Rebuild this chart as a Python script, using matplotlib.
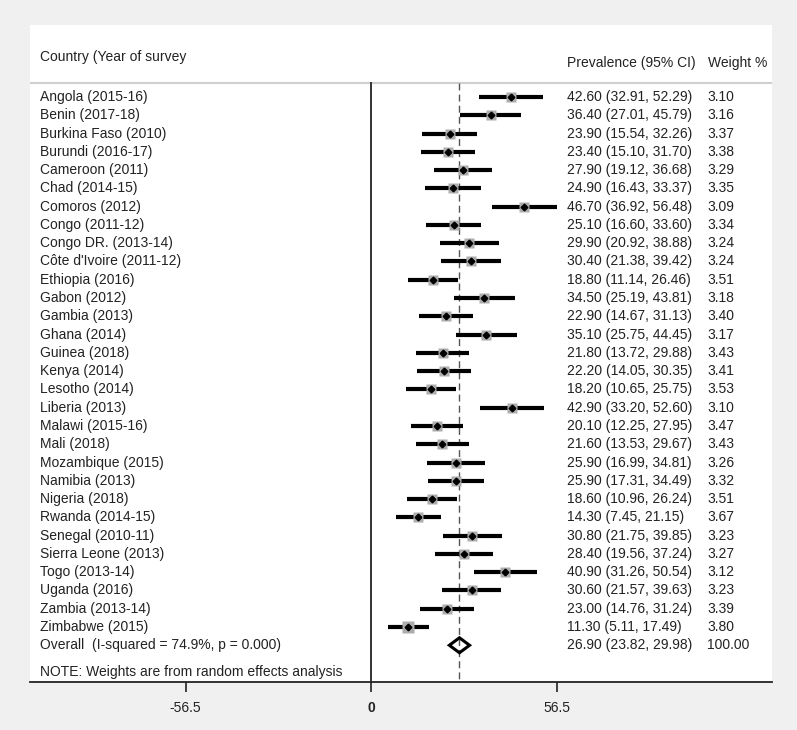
import matplotlib
matplotlib.use("Agg")
import matplotlib.pyplot as plt
import matplotlib.transforms as mtransforms
from matplotlib.patches import Polygon

plt.rcParams['font.family'] = ['Liberation Sans', 'DejaVu Sans']

countries = ["Angola (2015-16)", "Benin (2017-18)", "Burkina Faso (2010)", "Burundi (2016-17)",
             "Cameroon (2011)", "Chad (2014-15)", "Comoros (2012)", "Congo (2011-12)",
             "Congo DR. (2013-14)", "Côte d'Ivoire (2011-12)", "Ethiopia (2016)", "Gabon (2012)",
             "Gambia (2013)", "Ghana (2014)", "Guinea (2018)", "Kenya (2014)", "Lesotho (2014)",
             "Liberia (2013)", "Malawi (2015-16)", "Mali (2018)", "Mozambique (2015)",
             "Namibia (2013)", "Nigeria (2018)", "Rwanda (2014-15)", "Senegal (2010-11)",
             "Sierra Leone (2013)", "Togo (2013-14)", "Uganda (2016)", "Zambia (2013-14)",
             "Zimbabwe (2015)"]
prev = [42.60, 36.40, 23.90, 23.40, 27.90, 24.90, 46.70, 25.10, 29.90, 30.40, 18.80, 34.50,
        22.90, 35.10, 21.80, 22.20, 18.20, 42.90, 20.10, 21.60, 25.90, 25.90, 18.60, 14.30,
        30.80, 28.40, 40.90, 30.60, 23.00, 11.30]
lo = [32.91, 27.01, 15.54, 15.10, 19.12, 16.43, 36.92, 16.60, 20.92, 21.38, 11.14, 25.19,
      14.67, 25.75, 13.72, 14.05, 10.65, 33.20, 12.25, 13.53, 16.99, 17.31, 10.96, 7.45,
      21.75, 19.56, 31.26, 21.57, 14.76, 5.11]
hi = [52.29, 45.79, 32.26, 31.70, 36.68, 33.37, 56.48, 33.60, 38.88, 39.42, 26.46, 43.81,
      31.13, 44.45, 29.88, 30.35, 25.75, 52.60, 27.95, 29.67, 34.81, 34.49, 26.24, 21.15,
      39.85, 37.24, 50.54, 39.63, 31.24, 17.49]
weight = [3.10, 3.16, 3.37, 3.38, 3.29, 3.35, 3.09, 3.34, 3.24, 3.24, 3.51, 3.18, 3.40, 3.17,
          3.43, 3.41, 3.53, 3.10, 3.47, 3.43, 3.26, 3.32, 3.51, 3.67, 3.23, 3.27, 3.12, 3.23,
          3.39, 3.80]
overall = 26.90
overall_lo = 23.82
overall_hi = 29.98
overall_label = "Overall  (I-squared = 74.9%, p = 0.000)"
xticks = [-56.5, 0, 56.5]
xticklabels = ["-56.5", "0", "56.5"]

txt = '#222222'
fig = plt.figure(figsize=(7.97, 7.30), dpi=100, facecolor='#f0f0f0')
ax = fig.add_axes([30 / 797, (730 - 682) / 730, 742 / 797, (682 - 25) / 730])
ax.set_facecolor('white')
xmin, xmax = -103.9, 122.1
ytop, ybot = -3.94, 32.01
ax.set_xlim(xmin, xmax)
ax.set_ylim(ybot, ytop)

n = len(countries)
sep = -0.77
ax.axhline(sep, color='#cfcfcf', lw=1.5)
ax.plot([0, 0], [sep, ybot], color='#333333', lw=1.4, clip_on=False)
ax.plot([overall, overall], [sep, ybot], color='#555555', lw=1.0, dashes=(5, 3))

for i in range(n):
    ax.plot([lo[i], hi[i]], [i, i], color='black', lw=3.0, solid_capstyle='butt', zorder=3)
    ax.plot(prev[i], i, marker='s', ms=4.1 * weight[i] ** 0.5, color='#adadad', mec='none', zorder=4)
    ax.plot(prev[i], i, marker='D', ms=3.4, color='black', zorder=5)

# overall diamond
ax.add_patch(Polygon([(overall_lo, n), (overall, n - 0.41), (overall_hi, n), (overall, n + 0.41)],
                     closed=True, fill=False, ec='black', lw=2.2, zorder=5))

tr = mtransforms.blended_transform_factory(ax.transAxes, ax.transData)
fs = 10
ax.text(0.0135, -2.19, "Country (Year of survey", transform=tr, fontsize=fs, color=txt, va='center')
ax.text(0.7237, -1.86, "Prevalence (95% CI)", transform=tr, fontsize=fs, color=txt, va='center')
ax.text(0.9137, -1.86, "Weight %", transform=tr, fontsize=fs, color=txt, va='center')
for i in range(n):
    ax.text(0.0135, i, countries[i], transform=tr, fontsize=fs, color=txt, va='center')
    ax.text(0.7237, i, "%.2f (%.2f, %.2f)" % (prev[i], lo[i], hi[i]), transform=tr,
            fontsize=fs, color=txt, va='center')
    ax.text(0.9124, i, "%.2f" % weight[i], transform=tr, fontsize=fs, color=txt, va='center')
ax.text(0.0135, n, overall_label, transform=tr, fontsize=fs, color=txt, va='center')
ax.text(0.7237, n, "%.2f (%.2f, %.2f)" % (overall, overall_lo, overall_hi), transform=tr,
        fontsize=fs, color=txt, va='center')
ax.text(0.9124, n, "100.00", transform=tr, fontsize=fs, color=txt, va='center')
ax.text(0.0135, 31.45, "NOTE: Weights are from random effects analysis", transform=tr,
        fontsize=fs, color=txt, va='center')

for s in ['top', 'left', 'right']:
    ax.spines[s].set_visible(False)
ax.spines['bottom'].set_color('#222222')
ax.spines['bottom'].set_linewidth(1.3)
ax.set_yticks([])
ax.set_xticks(xticks)
ax.set_xticklabels(xticklabels)
ax.tick_params(axis='x', direction='out', length=7.5, width=1.2, color='#222222',
               labelsize=fs, labelcolor=txt, pad=6)
ax.get_xticklabels()[1].set_fontweight('bold')

fig.savefig("out.png", dpi=100, facecolor=fig.get_facecolor())
